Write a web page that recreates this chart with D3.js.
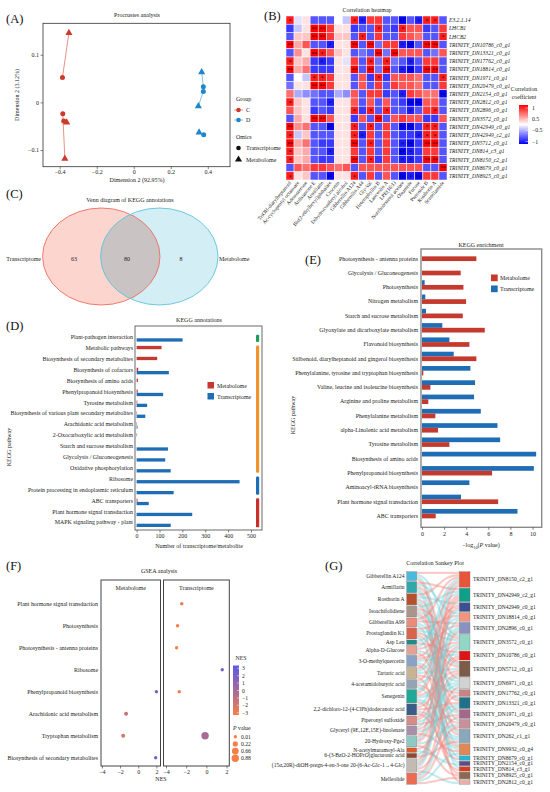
<!DOCTYPE html>
<html>
<head>
<meta charset="utf-8">
<script src="https://cdn.jsdelivr.net/npm/d3@7"></script>
<style>
  body { margin: 0; background: #fff; }
  text { font-family: "Liberation Serif", "Times New Roman", serif; }
</style>
</head>
<body>
<div id="canvas"></div>
<script>
// ---------- (A) Procrustes ----------
const procSampleGroup = ["C", "C", "C", "D", "D", "D"];
const procTransX = [-0.385, -0.383, -0.378, 0.376, 0.376, 0.378];
const procTransY = [0.052, -0.024, -0.039, 0.033, 0.023, -0.068];
const procMetaX = [-0.35, -0.372, -0.362, 0.367, 0.349, 0.353];
const procMetaY = [0.146, -0.118, -0.042, 0.0635, -0.008, -0.063];
const procXTicks = [-0.4, -0.2, 0, 0.2, 0.4];
const procYTicks = [-0.1, 0, 0.1];

// ---------- (B) correlation heatmap ----------
const heatRows = ["E3.2.1.14", "LHCB1", "LHCB2", "TRINITY_DN10786_c0_g1", "TRINITY_DN13321_c0_g1",
  "TRINITY_DN17762_c0_g1", "TRINITY_DN18814_c0_g1", "TRINITY_DN1971_c0_g1", "TRINITY_DN20479_c0_g1",
  "TRINITY_DN2154_c0_g1", "TRINITY_DN2812_c0_g1", "TRINITY_DN2896_c0_g1", "TRINITY_DN3572_c0_g1",
  "TRINITY_DN42949_c0_g1", "TRINITY_DN42949_c2_g1", "TRINITY_DN5712_c0_g1", "TRINITY_DN814_c3_g1",
  "TRINITY_DN8150_c2_g1", "TRINITY_DN8679_c0_g1", "TRINITY_DN8925_c0_g1"];
const heatCols = ["TriOH-diarylheptanoid", "Ac-cyclopentyl octanoate", "Adenosterone", "Ardisianone E",
  "Armillarin", "Bis(2-ethylhexyl)phthalate", "Crocetin", "Dihydroconiferyl alcohol", "Gibberellin A124",
  "Gibberellin A44", "Gly-Val", "Heterophyllin B", "Lanceolin A", "LPE(16:1)", "Norcholesterol acetate",
  "Oleamide", "Fucose", "Pteroside B", "Rosthorin A", "Scutellamide"];
const heatValues = [
  [0.8, -0.1, 0.1, -0.6, -0.6, -0.6, 0.0, -0.2, 0.8, -0.8, 0.7, 0.7, -0.6, -0.6, -0.9, -0.6, -0.8, 0.8, 0.8, -0.6],
  [-0.7, -0.2, 0.1, 0.9, 0.9, 0.7, 0.1, 0.1, -0.7, -0.6, -0.6, 0.8, -0.6, -0.7, 0.8, 0.6, 0.6, -0.7, -0.6, 0.7],
  [-0.6, 0.2, 0.2, 0.9, 0.9, 0.7, 0.2, 0.2, -0.6, 0.8, -0.6, 0.7, -0.6, -0.6, 0.7, 0.6, 0.5, -0.6, -0.6, 0.8],
  [0.9, 0.3, 0.6, -0.6, -0.6, -0.8, 0.1, 0.1, 0.9, -0.6, 0.9, -0.5, 0.7, 0.7, -0.8, -0.9, -0.6, 0.9, 0.9, -0.6],
  [-0.6, 0.4, 0.1, 0.9, 0.8, 0.6, 0.2, 0.1, -0.6, -0.5, -0.6, 0.9, -0.5, 0.9, 0.6, 0.6, 0.6, -0.6, -0.5, 0.6],
  [0.8, 0.2, 0.3, -0.7, -0.8, -0.7, 0.1, -0.1, 0.7, -0.6, 0.8, -0.5, 0.8, -0.5, -0.6, -0.8, -0.6, 0.7, 0.7, -0.6],
  [0.9, 0.3, 0.5, -0.7, -0.7, -0.7, 0.1, 0.1, 0.9, -0.6, 0.9, -0.5, 0.9, -0.6, -0.8, -0.9, -0.7, 0.9, 0.9, -0.6],
  [-0.6, 0.0, -0.2, 0.8, 0.8, 0.7, 0.1, 0.1, -0.6, 0.6, -0.7, 0.8, -0.7, 0.6, 0.6, 0.6, 0.5, -0.6, -0.6, 0.8],
  [-0.5, 0.1, 0.1, 0.9, 0.9, 0.7, 0.1, 0.1, -0.6, 0.6, -0.6, 0.7, -0.6, 0.7, 0.6, 0.6, 0.5, -0.6, -0.6, 0.7],
  [0.5, -0.3, -0.4, -0.5, -0.6, -0.6, -0.3, -0.4, 0.6, -0.6, 0.7, 0.7, -0.7, -0.6, -0.8, 0.7, 0.6, 0.5, 0.5, -0.9],
  [0.8, 0.2, 0.1, -0.6, -0.6, -0.8, 0.1, 0.1, 0.6, -0.6, 0.6, -0.6, 0.6, -0.6, -0.7, -0.9, -0.9, 0.6, 0.6, -0.6],
  [0.6, 0.2, 0.1, -0.7, -0.6, -0.7, 0.1, 0.1, 0.8, -0.7, 0.8, -0.6, 0.8, -0.6, -0.6, -0.8, -0.6, 0.7, 0.8, -0.6],
  [-0.6, 0.3, 0.1, 0.9, 0.9, 0.6, 0.1, 0.1, -0.7, 0.6, -0.6, 0.9, -0.6, 0.6, 0.7, 0.6, 0.6, -0.7, -0.7, 0.6],
  [0.9, 0.4, 0.5, -0.6, -0.6, -0.9, 0.1, 0.1, 0.8, -0.6, 0.8, -0.6, 0.7, -0.6, -0.9, -0.9, -0.7, 0.8, 0.8, -0.6],
  [0.8, -0.2, 0.2, -0.6, -0.6, -0.6, 0.1, 0.1, 0.8, -0.8, 0.7, -0.6, 0.7, -0.6, -0.7, -0.7, -0.8, 0.8, 0.8, -0.6],
  [0.9, 0.3, 0.5, -0.6, -0.7, -0.7, 0.1, 0.1, 0.9, -0.6, 0.8, -0.6, 0.7, -0.6, -0.8, -0.9, -0.7, 0.9, 0.9, -0.6],
  [0.8, 0.2, 0.3, -0.6, -0.6, -0.8, 0.1, 0.1, 0.7, -0.6, 0.7, -0.6, 0.7, -0.6, -0.9, -0.8, -0.7, 0.7, 0.7, -0.6],
  [0.8, 0.2, 0.3, -0.6, -0.7, -0.7, 0.1, 0.1, 0.9, -0.6, 0.8, -0.7, 0.7, -0.6, -0.8, -0.8, -0.7, 0.9, 0.9, -0.6],
  [-0.6, 0.6, 0.5, 0.7, 0.7, 0.6, 0.5, 0.6, -0.6, 0.6, 0.6, 0.6, 0.6, 0.6, 0.6, 0.6, 0.6, -0.6, -0.6, 0.9],
  [0.8, 0.1, 0.2, -0.6, -0.6, -0.9, 0.1, 0.1, 0.8, -0.6, 0.7, -0.6, 0.6, -0.6, -0.9, -0.8, -0.9, 0.7, 0.7, -0.6]
];
const heatLegendTicks = ["1", "0.5", "\u22120.5", "\u22121"];

// ---------- (C) Venn ----------
const vennSets = ["Transcriptome", "Metabolome"];
const vennCounts = [63, 80, 8];

// ---------- (D) KEGG annotations ----------
const annotPathways = ["Plant-pathogen interaction", "Metabolic pathways", "Biosynthesis of secondary metabolites",
  "Biosynthesis of cofactors", "Biosynthesis of amino acids", "Phenylpropanoid biosynthesis", "Tyrosine metabolism",
  "Biosynthesis of various plant secondary metabolites", "Arachidonic acid metabolism",
  "2-Oxocarboxylic acid metabolism", "Starch and sucrose metabolism", "Glycolysis / Gluconeogenesis",
  "Oxidative phosphorylation", "Ribosome", "Protein processing in endoplasmic reticulum", "ABC transporters",
  "Plant hormone signal transduction", "MAPK signaling pathway - plant"];
const annotMeta = [0, 109, 90, 7, 6, 5, 3, 2, 2, 2, 0, 0, 0, 0, 0, 4, 0, 0];
const annotTrans = [201, 0, 0, 141, 0, 116, 46, 38, 4, 0, 137, 125, 149, 450, 162, 53, 243, 149];
const annotGroupStart = [0, 1, 13, 15];
const annotGroupEnd = [0, 12, 14, 17];
const annotTicks = [0, 100, 200, 300, 400, 500];

// ---------- (E) KEGG enrichment ----------
const enrichPathways = ["Photosynthesis - antenna proteins", "Glycolysis / Gluconeogenesis", "Photosynthesis",
  "Nitrogen metabolism", "Starch and sucrose metabolism", "Glyoxylate and dicarboxylate metabolism",
  "Flavonoid biosynthesis", "Stilbenoid, diarylheptanoid and gingerol biosynthesis",
  "Phenylalanine, tyrosine and tryptophan biosynthesis", "Valine, leucine and isoleucine biosynthesis",
  "Arginine and proline metabolism", "Phenylalanine metabolism", "alpha-Linolenic acid metabolism",
  "Tyrosine metabolism", "Biosynthesis of amino acids", "Phenylpropanoid biosynthesis",
  "Aminoacyl-tRNA biosynthesis", "Plant hormone signal transduction", "ABC transporters"];
const enrichMeta = [4.92, 3.5, 3.75, 3.99, 3.69, 5.68, 4.29, 4.92, 0.12, 0.76, 0.57, 1.21, 1.45, 2.48, 0, 6.34, 0, 6.89, 1.24];
const enrichTrans = [0, 0, 0.24, 0.3, 0.36, 1.84, 2.48, 2.87, 4.38, 4.8, 4.71, 5.32, 6.83, 7.07, 10.33, 10.12, 4.29, 3.53, 8.64];
const enrichTicks = [0, 2, 4, 6, 8, 10];

// ---------- (F) GSEA ----------
const gseaPathways = ["Plant hormone signal transduction", "Photosynthesis", "Photosynthesis - antenna proteins",
  "Ribosome", "Phenylpropanoid biosynthesis", "Arachidonic acid metabolism", "Tryptophan metabolism",
  "Biosynthesis of secondary metabolites"];
const gseaOmics = ["Metabolome", "Transcriptome"];
const gseaPointOmics = ["Transcriptome", "Transcriptome", "Transcriptome", "Transcriptome", "Transcriptome",
  "Metabolome", "Metabolome", "Metabolome", "Transcriptome", "Metabolome"];
const gseaPointPath = ["Plant hormone signal transduction", "Photosynthesis", "Photosynthesis - antenna proteins",
  "Ribosome", "Phenylpropanoid biosynthesis", "Phenylpropanoid biosynthesis", "Arachidonic acid metabolism",
  "Tryptophan metabolism", "Tryptophan metabolism", "Biosynthesis of secondary metabolites"];
const gseaPointNES = [-2.44, -2.86, -2.95, 1.57, -2.69, 2.0, -1.34, -1.66, -0.13, 1.92];
const gseaPointP = [0.01, 0.01, 0.01, 0.01, 0.01, 0.01, 0.05, 0.05, 0.88, 0.01];
const gseaXTicks = [-4, -2, 0, 2];
const gseaNESTicks = [3, 2, 1, 0, -1, -2, -3];
const gseaPTicks = [0.01, 0.22, 0.66, 0.88];

// ---------- (G) Sankey ----------
const sankeyLeft = ["Gibberellin A124", "Armillarin", "Rosthorin A", "Isoachifolidiene", "Gibberellin A99",
  "Prostaglandin K1", "Asp Leu", "Alpha-D-Glucose", "3-O-methylquercetin", "Tartaric acid",
  "4-acetamidobutyric acid", "Senegenin", "2,2-dichloro-12-(4-ClPh)dodecanoic acid", "Piperonyl sulfoxide",
  "Glyceryl (9E,12E,15E)-linolenate", "20-Hydroxy-Pge2", "N-acetylmuramoyl-Ala",
  "6-(3-BzO-2-HOPrO)glucuronic acid", "(15\u03b1,20R)-diOH-pregn-4-en-3-one 20-(6-Ac-Glc-1\u21924-Glc)",
  "Melleolide"];
const sankeyRight = ["TRINITY_DN8150_c2_g1", "TRINITY_DN42949_c2_g1", "TRINITY_DN42949_c0_g1",
  "TRINITY_DN18814_c0_g1", "TRINITY_DN2896_c0_g1", "TRINITY_DN3572_c0_g1", "TRINITY_DN10786_c0_g1",
  "TRINITY_DN5712_c0_g1", "TRINITY_DN6971_c0_g1", "TRINITY_DN17762_c0_g1", "TRINITY_DN13321_c0_g1",
  "TRINITY_DN1971_c0_g1", "TRINITY_DN20479_c0_g1", "TRINITY_DN262_c1_g1", "TRINITY_DN9932_c0_g4",
  "TRINITY_DN8679_c0_g1", "TRINITY_DN2154_c0_g1", "TRINITY_DN814_c3_g1", "TRINITY_DN8925_c0_g1",
  "TRINITY_DN2812_c0_g1"];
// [metabolite, gene, sign of correlation]
const sankeyLinks = [
  [0, 0, 1], [0, 5, -1], [0, 10, -1], [0, 13, 1],
  [1, 1, 1], [1, 3, -1], [1, 7, 1], [1, 12, -1], [1, 17, -1],
  [2, 0, 1], [2, 2, -1], [2, 8, 1], [2, 13, -1], [2, 19, 1],
  [3, 1, -1], [3, 5, 1], [3, 7, -1], [3, 11, 1], [3, 14, -1],
  [4, 0, 1], [4, 4, 1], [4, 9, -1], [4, 15, -1],
  [5, 3, 1], [5, 5, -1], [5, 7, 1], [5, 10, 1], [5, 16, -1],
  [6, 1, -1], [6, 6, 1],
  [7, 0, -1], [7, 4, 1], [7, 8, -1], [7, 13, 1],
  [8, 2, 1], [8, 5, 1], [8, 6, -1], [8, 11, -1], [8, 14, 1],
  [9, 0, 1], [9, 3, -1], [9, 7, -1], [9, 9, 1], [9, 18, 1],
  [10, 1, 1], [10, 5, -1], [10, 12, 1], [10, 14, -1],
  [11, 0, -1], [11, 2, 1], [11, 7, 1], [11, 8, -1], [11, 13, -1], [11, 17, 1],
  [12, 4, -1], [12, 6, 1], [12, 10, 1], [12, 13, -1], [12, 15, 1],
  [13, 1, 1], [13, 5, 1], [13, 8, -1], [13, 11, 1],
  [14, 2, -1], [14, 7, 1], [14, 10, -1], [14, 14, 1],
  [15, 0, 1], [15, 4, -1], [15, 6, 1], [15, 12, -1], [15, 18, 1],
  [16, 9, 1], [16, 16, -1],
  [17, 7, -1], [17, 13, 1],
  [18, 1, 1], [18, 3, -1], [18, 4, 1], [18, 5, -1], [18, 11, 1], [18, 19, -1],
  [19, 8, 1], [19, 10, -1], [19, 12, 1], [19, 14, -1], [19, 18, 1]
];

// ---------- styles ----------
const FONT = "Liberation Serif";
const colMeta = "#c43a2e";
const colTrans = "#1f6db4";
const groupColor = { C: "#cc3b29", D: "#1f86cc" };
const groupLine = { C: "#e27567", D: "#5fb2e2" };
const annotGroupColors = ["#1f9e55", "#f0952e", "#1f6db4", "#c9302c"];
const sankeyLeftColors = ["#4bb8dc", "#30a8aa", "#b5502e", "#a8968a", "#ea8c7c", "#d9644e", "#1f8c84",
  "#e4a092", "#8aa2c4", "#c8b494", "#94a4b0", "#1ea898", "#3b5c84", "#d48c88", "#a890aa", "#90c8c4",
  "#dc5a2c", "#8c4a30", "#c4bab4", "#ec6c52"];
const sankeyRightColors = ["#e9553b", "#0fa08a", "#3b4f92", "#f2957f", "#8a92c2", "#92d6c6", "#e01414",
  "#7c5c48", "#d2d2d2", "#c88484", "#1f7189", "#a4688a", "#c8909a", "#8aa8bc", "#e08858", "#28b4cc",
  "#5c4c8c", "#d83a1e", "#8c6a50", "#e8b0a8"];

const svg = d3.select("#canvas").append("svg").attr("width", 550).attr("height", 792);
svg.append("rect").attr("width", 550).attr("height", 792).attr("fill", "#fff");

function addText(g, x, y, s, size, anchor = "middle") {
  return g.append("text").attr("x", x).attr("y", y).attr("font-size", size)
    .attr("text-anchor", anchor).attr("fill", "#222").attr("font-family", FONT).text(s);
}
function styleAxis(sel, size = 6) {
  sel.select(".domain").remove();
  sel.selectAll(".tick line").attr("stroke", "#333").attr("stroke-width", 0.6);
  sel.selectAll(".tick text").attr("font-family", FONT).attr("font-size", size).attr("fill", "#222");
}
function panelLabel(x, y, s) {
  addText(svg, x, y, s, 12.5, "start").attr("fill", "#111");
}

// ================= (A) =================
const gA = svg.append("g");
panelLabel(6, 23, "(A)");
const ax = d3.scaleLinear().domain([-0.49, 0.52]).range([43, 230]);
const ay = d3.scaleLinear().domain([-0.135, 0.166]).range([166.7, 23.3]);
addText(gA, 137, 17, "Procrustes analysis", 6);
gA.append("rect").attr("x", 43).attr("y", 23.3).attr("width", 187).attr("height", 143.4)
  .attr("fill", "none").attr("stroke", "#333").attr("stroke-width", 0.8);
const fmt1 = d => d === 0 ? "0" : d3.format(".1f")(d);
gA.append("g").attr("transform", "translate(0,166.7)")
  .call(d3.axisBottom(ax).tickValues(procXTicks).tickSize(2.5).tickPadding(1).tickFormat(fmt1))
  .call(styleAxis);
gA.append("g").attr("transform", "translate(43,0)")
  .call(d3.axisLeft(ay).tickValues(procYTicks).tickSize(2.5).tickPadding(1.5).tickFormat(fmt1))
  .call(styleAxis);
addText(gA, 137, 181.5, "Dimension 2 (92.95%)", 6);
addText(gA, 0, 0, "Dimension 2 (3.12%)", 6).attr("transform", "translate(19,95) rotate(-90)");

procSampleGroup.forEach((grp, i) => {
  gA.append("line")
    .attr("x1", ax(procTransX[i])).attr("y1", ay(procTransY[i]))
    .attr("x2", ax(procMetaX[i])).attr("y2", ay(procMetaY[i]))
    .attr("stroke", groupLine[grp]).attr("stroke-width", 0.8);
});
const tri = d3.symbol(d3.symbolTriangle, 22);
procSampleGroup.forEach((grp, i) => {
  gA.append("circle").attr("cx", ax(procTransX[i])).attr("cy", ay(procTransY[i])).attr("r", 2.5)
    .attr("fill", groupColor[grp]);
  gA.append("path").attr("d", tri())
    .attr("transform", `translate(${ax(procMetaX[i])},${ay(procMetaY[i])})`)
    .attr("fill", groupColor[grp]);
});
// legend A
addText(gA, 236, 101, "Group", 6, "start");
["C", "D"].forEach((grp, i) => {
  const y = 110 + i * 10;
  gA.append("line").attr("x1", 234).attr("x2", 243).attr("y1", y).attr("y2", y)
    .attr("stroke", groupLine[grp]).attr("stroke-width", 0.8);
  gA.append("circle").attr("cx", 238.5).attr("cy", y).attr("r", 2.3).attr("fill", groupColor[grp]);
  addText(gA, 246, y + 2, grp, 6, "start");
});
addText(gA, 236, 139, "Omics", 6, "start");
gA.append("circle").attr("cx", 238.5).attr("cy", 148).attr("r", 2.3).attr("fill", "#111");
addText(gA, 246, 150, "Transcriptome", 6, "start");
gA.append("path").attr("d", tri()).attr("transform", "translate(238.5,159.5)").attr("fill", "#111");
addText(gA, 246, 161.5, "Metabolome", 6, "start");

// ================= (B) =================
const gB = svg.append("g");
panelLabel(264, 20, "(B)");
addText(gB, 367, 12, "Correlation heatmap", 6);
const hx = d3.scaleBand().domain(heatCols).range([286, 447]);
const hy = d3.scaleBand().domain(heatRows).range([16, 180]);
const heatColor = d3.scaleLinear().domain([-0.9, 0, 0.9]).range(["#0000ff", "#ffffff", "#ff0000"]).clamp(true);
heatValues.forEach((row, r) => {
  row.forEach((v, c) => {
    const x = hx(heatCols[c]), y = hy(heatRows[r]);
    gB.append("rect").attr("x", x).attr("y", y).attr("width", hx.bandwidth()).attr("height", hy.bandwidth())
      .attr("fill", heatColor(v)).attr("stroke", "#fff").attr("stroke-width", 0.5);
    const a = Math.abs(v);
    const star = a >= 0.9 ? "**" : a >= 0.8 ? "*" : "";
    if (star) {
      addText(gB, x + hx.bandwidth() / 2, y + hy.bandwidth() / 2 + 2.6, star, 5.5).attr("fill", "#111");
    }
  });
});
heatRows.forEach(r => {
  addText(gB, 449, hy(r) + hy.bandwidth() / 2 + 2, r, 5.6, "start").attr("font-style", "italic");
});
heatCols.forEach(c => {
  addText(gB, 0, 0, c, 5.3, "end")
    .attr("transform", `translate(${hx(c) + hx.bandwidth() / 2 + 1.5},${183}) rotate(-50)`);
});
addText(gB, 524, 91, "Correlation", 5.8);
addText(gB, 524, 98.5, "coefficient", 5.8);
const grad = svg.append("defs").append("linearGradient").attr("id", "heatgrad")
  .attr("x1", 0).attr("x2", 0).attr("y1", 0).attr("y2", 1);
grad.append("stop").attr("offset", "0%").attr("stop-color", "#ff0000");
grad.append("stop").attr("offset", "50%").attr("stop-color", "#ffffff");
grad.append("stop").attr("offset", "100%").attr("stop-color", "#0000ff");
gB.append("rect").attr("x", 519).attr("y", 105).attr("width", 9).attr("height", 39).attr("fill", "url(#heatgrad)");
const legY = d3.scalePoint().domain(heatLegendTicks).range([108, 141.5]);
heatLegendTicks.forEach(t => {
  gB.append("line").attr("x1", 525.5).attr("x2", 528).attr("y1", legY(t)).attr("y2", legY(t))
    .attr("stroke", "#fff").attr("stroke-width", 0.5);
  addText(gB, 532, legY(t) + 2, t, 5.8, "start");
});

// ================= (C) =================
const gC = svg.append("g");
panelLabel(6, 198, "(C)");
addText(gC, 130, 202, "Venn diagram of KEGG annotations", 6);
const vennX = d3.scalePoint().domain(vennSets).range([101.3, 159.3]);
const defsC = svg.append("defs");
defsC.append("clipPath").attr("id", "vennclip").append("ellipse")
  .attr("cx", vennX("Transcriptome")).attr("cy", 256.5).attr("rx", 58.7).attr("ry", 48.5);
gC.append("ellipse").attr("cx", vennX("Transcriptome")).attr("cy", 256.5).attr("rx", 58.7).attr("ry", 48.5)
  .attr("fill", "#fbd5ce");
gC.append("ellipse").attr("cx", vennX("Metabolome")).attr("cy", 256.5).attr("rx", 58.7).attr("ry", 48.5)
  .attr("fill", "#d3eef5");
gC.append("ellipse").attr("cx", vennX("Metabolome")).attr("cy", 256.5).attr("rx", 58.7).attr("ry", 48.5)
  .attr("fill", "#c9c3c3").attr("clip-path", "url(#vennclip)");
gC.append("ellipse").attr("cx", vennX("Transcriptome")).attr("cy", 256.5).attr("rx", 58.7).attr("ry", 48.5)
  .attr("fill", "none").attr("stroke", "#ee6d60").attr("stroke-width", 0.9);
gC.append("ellipse").attr("cx", vennX("Metabolome")).attr("cy", 256.5).attr("rx", 58.7).attr("ry", 48.5)
  .attr("fill", "none").attr("stroke", "#5ec4dd").attr("stroke-width", 0.9);
addText(gC, 74, 261, vennCounts[0], 6);
addText(gC, 127, 261, vennCounts[1], 6);
addText(gC, 181, 261, vennCounts[2], 6);
addText(gC, 41, 261, vennSets[0], 6, "end");
addText(gC, 219, 261, vennSets[1], 6, "start");

// ================= (D) =================
const gD = svg.append("g");
panelLabel(6, 330, "(D)");
addText(gD, 199, 322, "KEGG annotations", 6);
const dY = d3.scaleBand().domain(annotPathways).range([332.85, 529.15]);
const dSub = d3.scaleBand().domain(["Metabolome", "Transcriptome"]).range([0, dY.bandwidth()]).paddingOuter(0.65);
const dX = d3.scaleLinear().domain([-7, 548]).range([135, 262]);
gD.append("rect").attr("x", 135).attr("y", 326).attr("width", 127).attr("height", 204)
  .attr("fill", "none").attr("stroke", "#444").attr("stroke-width", 0.8);
annotPathways.forEach((p, i) => {
  [["Metabolome", annotMeta[i], colMeta], ["Transcriptome", annotTrans[i], colTrans]].forEach(([s, v, col]) => {
    if (v > 0) {
      gD.append("rect").attr("x", dX(0)).attr("y", dY(p) + dSub(s))
        .attr("width", dX(v) - dX(0)).attr("height", dSub.bandwidth()).attr("fill", col);
    }
  });
  addText(gD, 133, dY(p) + dY.bandwidth() / 2 + 0.8, p, 5.9, "end");
});
annotGroupStart.forEach((s, i) => {
  const y0 = dY(annotPathways[s]) + 1.8;
  const y1 = dY(annotPathways[annotGroupEnd[i]]) + dY.bandwidth() - 1.8;
  gD.append("rect").attr("x", 256).attr("y", y0).attr("width", 3.2).attr("height", y1 - y0)
    .attr("rx", 1.2).attr("fill", annotGroupColors[i]);
});
gD.append("g").attr("transform", "translate(0,530)")
  .call(d3.axisBottom(dX).tickValues(annotTicks).tickSize(2.5).tickPadding(1.5))
  .call(styleAxis);
addText(gD, 199, 548, "Number of transcriptome/metabolite", 6);
addText(gD, 0, 0, "KEGG pathway", 6).attr("transform", "translate(11,447) rotate(-90)");
gD.append("rect").attr("x", 207.5).attr("y", 382).attr("width", 6.5).attr("height", 6.5).attr("fill", colMeta);
addText(gD, 217, 387.5, "Metabolome", 5.9, "start");
gD.append("rect").attr("x", 207.5).attr("y", 393).attr("width", 6.5).attr("height", 6.5).attr("fill", colTrans);
addText(gD, 217, 398.5, "Transcriptome", 5.9, "start");

// ================= (E) =================
const gE = svg.append("g");
panelLabel(305, 264, "(E)");
addText(gE, 481, 247, "KEGG enrichment", 6);
const eY = d3.scaleBand().domain(enrichPathways).range([249.2, 520.8]);
const eSub = d3.scaleBand().domain(["Transcriptome", "Metabolome"]).range([0, eY.bandwidth()]).paddingOuter(0.52);
const eX = d3.scaleLinear().domain([-0.09, 10.83]).range([421, 541.7]);
enrichPathways.forEach((p, i) => {
  [["Transcriptome", enrichTrans[i], colTrans], ["Metabolome", enrichMeta[i], colMeta]].forEach(([s, v, col]) => {
    if (v > 0) {
      gE.append("rect").attr("x", eX(0)).attr("y", eY(p) + eSub(s))
        .attr("width", eX(v) - eX(0)).attr("height", eSub.bandwidth()).attr("fill", col);
    }
  });
  addText(gE, 418, eY(p) + eY.bandwidth() / 2 + 4.2, p, 5.9, "end");
});
gE.append("rect").attr("x", 421).attr("y", 249).attr("width", 120.7).attr("height", 278.3)
  .attr("fill", "none").attr("stroke", "#8a8a8a").attr("stroke-width", 1.4);
gE.append("g").attr("transform", "translate(0,527.3)")
  .call(d3.axisBottom(eX).tickValues(enrichTicks).tickSize(2.5).tickPadding(1.5))
  .call(styleAxis);
const eLab = addText(gE, 481, 547, "", 6);
eLab.append("tspan").text("\u2212log");
eLab.append("tspan").attr("font-size", 4.3).attr("dy", 1.5).text("10");
eLab.append("tspan").attr("dy", -1.5).text("(");
eLab.append("tspan").attr("font-style", "italic").text("P");
eLab.append("tspan").text(" value)");
addText(gE, 0, 0, "KEGG pathway", 6).attr("transform", "translate(295,415) rotate(-90)");
gE.append("rect").attr("x", 491).attr("y", 274.5).attr("width", 6.7).attr("height", 6.7).attr("fill", colMeta);
addText(gE, 500, 280, "Metabolome", 5.9, "start");
gE.append("rect").attr("x", 491).attr("y", 285.5).attr("width", 6.7).attr("height", 6.7).attr("fill", colTrans);
addText(gE, 500, 291, "Transcriptome", 5.9, "start");

// ================= (F) =================
const gF = svg.append("g");
panelLabel(6, 570, "(F)");
addText(gF, 159, 573, "GSEA analysis", 6);
const fY = d3.scalePoint().domain(gseaPathways).range([603.7, 757.7]);
const fX = {
  Metabolome: d3.scaleLinear().domain([-4.1, 2.45]).range([101, 160.5]),
  Transcriptome: d3.scaleLinear().domain([-4.25, 2.27]).range([163.5, 229.3])
};
const nesColor = d3.scaleLinear().domain([-3, 0, 3]).range(["#f57f48", "#a56a9c", "#5a5be4"]).clamp(true);
const pSize = d3.scaleSqrt().domain([0.01, 0.88]).range([1.7, 3.7]);
gseaOmics.forEach(o => {
  const [x0, x1] = fX[o].range();
  gF.append("rect").attr("x", x0).attr("y", 580).attr("width", x1 - x0).attr("height", 186)
    .attr("fill", "none").attr("stroke", "#444").attr("stroke-width", 1);
  addText(gF, (x0 + x1) / 2, 589.5, o, 6);
  gF.append("g").attr("transform", "translate(0,766)")
    .call(d3.axisBottom(fX[o]).tickValues(gseaXTicks).tickSize(2.5).tickPadding(1.5).tickFormat(d3.format("d")))
    .call(styleAxis);
});
gseaPathways.forEach(p => addText(gF, 98, fY(p) + 2, p, 5.9, "end"));
gseaPointOmics.forEach((o, i) => {
  gF.append("circle").attr("cx", fX[o](gseaPointNES[i])).attr("cy", fY(gseaPointPath[i]))
    .attr("r", pSize(gseaPointP[i])).attr("fill", nesColor(gseaPointNES[i]));
});
addText(gF, 161, 781, "NES", 6);
addText(gF, 241, 660, "NES", 5.8);
const fgrad = svg.append("defs").append("linearGradient").attr("id", "nesgrad")
  .attr("x1", 0).attr("x2", 0).attr("y1", 0).attr("y2", 1);
fgrad.append("stop").attr("offset", "0%").attr("stop-color", nesColor(3));
fgrad.append("stop").attr("offset", "50%").attr("stop-color", nesColor(0));
fgrad.append("stop").attr("offset", "100%").attr("stop-color", nesColor(-3));
gF.append("rect").attr("x", 233).attr("y", 665.5).attr("width", 6).attr("height", 49.5).attr("fill", "url(#nesgrad)");
const nesY = d3.scaleLinear().domain([3, -3]).range([668.3, 712.7]);
gseaNESTicks.forEach(t => {
  gF.append("line").attr("x1", 237).attr("x2", 239).attr("y1", nesY(t)).attr("y2", nesY(t))
    .attr("stroke", "#fff").attr("stroke-width", 0.5);
  addText(gF, 242, nesY(t) + 2, d3.format("d")(t), 5.6, "start");
});
const pLab = addText(gF, 233, 730, "", 5.8, "start");
pLab.append("tspan").attr("font-style", "italic").text("P");
pLab.append("tspan").text(" value");
const pY = d3.scalePoint().domain(gseaPTicks).range([736.7, 758.3]);
gseaPTicks.forEach(t => {
  gF.append("circle").attr("cx", 235.3).attr("cy", pY(t)).attr("r", pSize(t)).attr("fill", "#f57f48");
  addText(gF, 241, pY(t) + 2, t, 5.6, "start");
});

// ================= (G) =================
const gG = svg.append("g");
panelLabel(325, 570, "(G)");
addText(gG, 435, 565, "Correlation Sankey Plot", 6);
const sTop = 571.7, sBottom = 784.3, sGap = 1.0;
const leftX0 = 406.7, leftX1 = 416.7, rightX0 = 459.3, rightX1 = 470;
const unitY = d3.scaleLinear().domain([0, sankeyLinks.length])
  .range([0, sBottom - sTop - sGap * (sankeyLeft.length - 1)]);
function layoutColumn(names, key) {
  let y = sTop;
  return names.map((name, i) => {
    const n = sankeyLinks.filter(l => l[key] === i).length;
    const node = { name, i, y0: y, y1: y + unitY(n) };
    y = node.y1 + sGap;
    return node;
  });
}
const leftNodes = layoutColumn(sankeyLeft, 0);
const rightNodes = layoutColumn(sankeyRight, 1);
const linkYs = sankeyLinks.map(() => ({}));
leftNodes.forEach(node => {
  sankeyLinks.map((l, k) => [l, k]).filter(([l]) => l[0] === node.i)
    .sort((a, b) => a[0][1] - b[0][1])
    .forEach(([l, k], j) => { linkYs[k].ys = node.y0 + unitY(j + 0.5); });
});
rightNodes.forEach(node => {
  sankeyLinks.map((l, k) => [l, k]).filter(([l]) => l[1] === node.i)
    .sort((a, b) => a[0][0] - b[0][0])
    .forEach(([l, k], j) => { linkYs[k].yt = node.y0 + unitY(j + 0.5); });
});
const linkGen = d3.linkHorizontal();
sankeyLinks.forEach((l, k) => {
  gG.append("path")
    .attr("d", linkGen({ source: [leftX1, linkYs[k].ys], target: [rightX0, linkYs[k].yt] }))
    .attr("fill", "none").attr("stroke", l[2] > 0 ? "#f1837b" : "#70d0d6")
    .attr("stroke-width", unitY(1)).attr("stroke-opacity", 0.42);
});
leftNodes.forEach(n => {
  gG.append("rect").attr("x", leftX0).attr("y", n.y0).attr("width", leftX1 - leftX0).attr("height", n.y1 - n.y0)
    .attr("fill", sankeyLeftColors[n.i]).attr("stroke", "#666").attr("stroke-width", 0.3);
  addText(gG, 404.5, (n.y0 + n.y1) / 2 + 1.8, n.name, 5.5, "end");
});
rightNodes.forEach(n => {
  gG.append("rect").attr("x", rightX0).attr("y", n.y0).attr("width", rightX1 - rightX0).attr("height", n.y1 - n.y0)
    .attr("fill", sankeyRightColors[n.i]).attr("stroke", "#666").attr("stroke-width", 0.3);
  addText(gG, 473, (n.y0 + n.y1) / 2 + 1.8, n.name, 5.5, "start");
});
</script>
</body>
</html>
